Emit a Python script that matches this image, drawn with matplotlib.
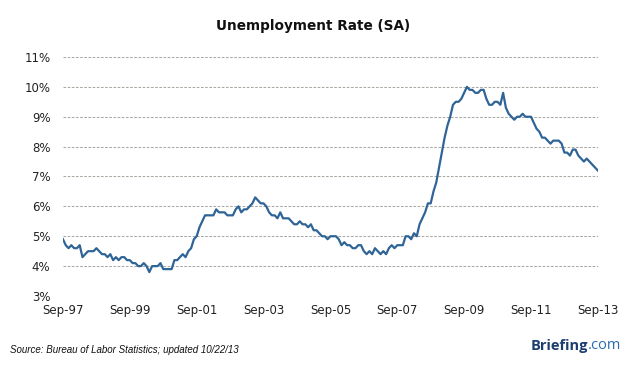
import numpy as np
import matplotlib
matplotlib.use('Agg')
from matplotlib import pyplot as plt

# monthly unemployment rate (%), Sep-97 .. Sep-13
rate_1997 = [4.9, 4.7, 4.6, 4.7]
rate_1998 = [4.6, 4.6, 4.7, 4.3, 4.4, 4.5, 4.5, 4.5, 4.6, 4.5, 4.4, 4.4]
rate_1999 = [4.3, 4.4, 4.2, 4.3, 4.2, 4.3, 4.3, 4.2, 4.2, 4.1, 4.1, 4.0]
rate_2000 = [4.0, 4.1, 4.0, 3.8, 4.0, 4.0, 4.0, 4.1, 3.9, 3.9, 3.9, 3.9]
rate_2001 = [4.2, 4.2, 4.3, 4.4, 4.3, 4.5, 4.6, 4.9, 5.0, 5.3, 5.5, 5.7]
rate_2002 = [5.7, 5.7, 5.7, 5.9, 5.8, 5.8, 5.8, 5.7, 5.7, 5.7, 5.9, 6.0]
rate_2003 = [5.8, 5.9, 5.9, 6.0, 6.1, 6.3, 6.2, 6.1, 6.1, 6.0, 5.8, 5.7]
rate_2004 = [5.7, 5.6, 5.8, 5.6, 5.6, 5.6, 5.5, 5.4, 5.4, 5.5, 5.4, 5.4]
rate_2005 = [5.3, 5.4, 5.2, 5.2, 5.1, 5.0, 5.0, 4.9, 5.0, 5.0, 5.0, 4.9]
rate_2006 = [4.7, 4.8, 4.7, 4.7, 4.6, 4.6, 4.7, 4.7, 4.5, 4.4, 4.5, 4.4]
rate_2007 = [4.6, 4.5, 4.4, 4.5, 4.4, 4.6, 4.7, 4.6, 4.7, 4.7, 4.7, 5.0]
rate_2008 = [5.0, 4.9, 5.1, 5.0, 5.4, 5.6, 5.8, 6.1, 6.1, 6.5, 6.8, 7.3]
rate_2009 = [7.8, 8.3, 8.7, 9.0, 9.4, 9.5, 9.5, 9.6, 9.8, 10.0, 9.9, 9.9]
rate_2010 = [9.8, 9.8, 9.9, 9.9, 9.6, 9.4, 9.4, 9.5, 9.5, 9.4, 9.8, 9.3]
rate_2011 = [9.1, 9.0, 8.9, 9.0, 9.0, 9.1, 9.0, 9.0, 9.0, 8.8, 8.6, 8.5]
rate_2012 = [8.3, 8.3, 8.2, 8.1, 8.2, 8.2, 8.2, 8.1, 7.8, 7.8, 7.7, 7.9]
rate_2013 = [7.9, 7.7, 7.6, 7.5, 7.6, 7.5, 7.4, 7.3, 7.2]

rate = (rate_1997 + rate_1998 + rate_1999 + rate_2000 + rate_2001 + rate_2002
        + rate_2003 + rate_2004 + rate_2005 + rate_2006 + rate_2007 + rate_2008
        + rate_2009 + rate_2010 + rate_2011 + rate_2012 + rate_2013)

x_labels = ['Sep-97', 'Sep-99', 'Sep-01', 'Sep-03', 'Sep-05',
            'Sep-07', 'Sep-09', 'Sep-11', 'Sep-13']
y_ticks = [3, 4, 5, 6, 7, 8, 9, 10, 11]

months = np.arange(len(rate))

fig = plt.figure(figsize=(6.26, 3.67), dpi=100)
ax = fig.add_axes([0.1006, 0.1935, 0.8544, 0.6512])

ax.plot(months, rate, color='#2f6497', lw=1.6, solid_joinstyle='round')

ax.set_xlim(0, len(rate) - 1)
ax.set_ylim(3, 11)
ax.set_xticks(np.arange(0, len(rate), 24))
ax.set_xticklabels(x_labels)
ax.set_yticks(y_ticks)
ax.set_yticklabels([f'{v}%' for v in y_ticks])
ax.tick_params(length=0, labelsize=8.5, colors='#222222', pad=6)
ax.tick_params(axis='y', pad=9)

ax.grid(axis='y', color='#a8a8a0', lw=0.75, ls=(0, (2.5, 1.5)))
ax.set_axisbelow(True)
for s in ax.spines.values():
    s.set_visible(False)

fig.text(0.5, 0.93, 'Unemployment Rate (SA)', ha='center', va='center',
         fontsize=9.8, fontweight='bold', color='#111111')
fig.text(0.016, 0.045, 'Source: Bureau of Labor Statistics; updated 10/22/13',
         ha='left', va='center', fontsize=7, style='italic', color='#111111',
         family='Liberation Sans')

# logo: "Briefing" + ".com", right aligned near the corner
com = fig.text(0.993, 0.058, '.com', ha='right', va='center', fontsize=10.5,
               color='#2a6bb0', family='Open Sans')
fig.canvas.draw()
com_left = com.get_window_extent().x0 / fig.bbox.width
fig.text(com_left, 0.058, 'Briefing', ha='right', va='center', fontsize=10.5,
         fontweight='bold', color='#1c3d6e', family='Open Sans')

fig.savefig('out.png', dpi=100)
